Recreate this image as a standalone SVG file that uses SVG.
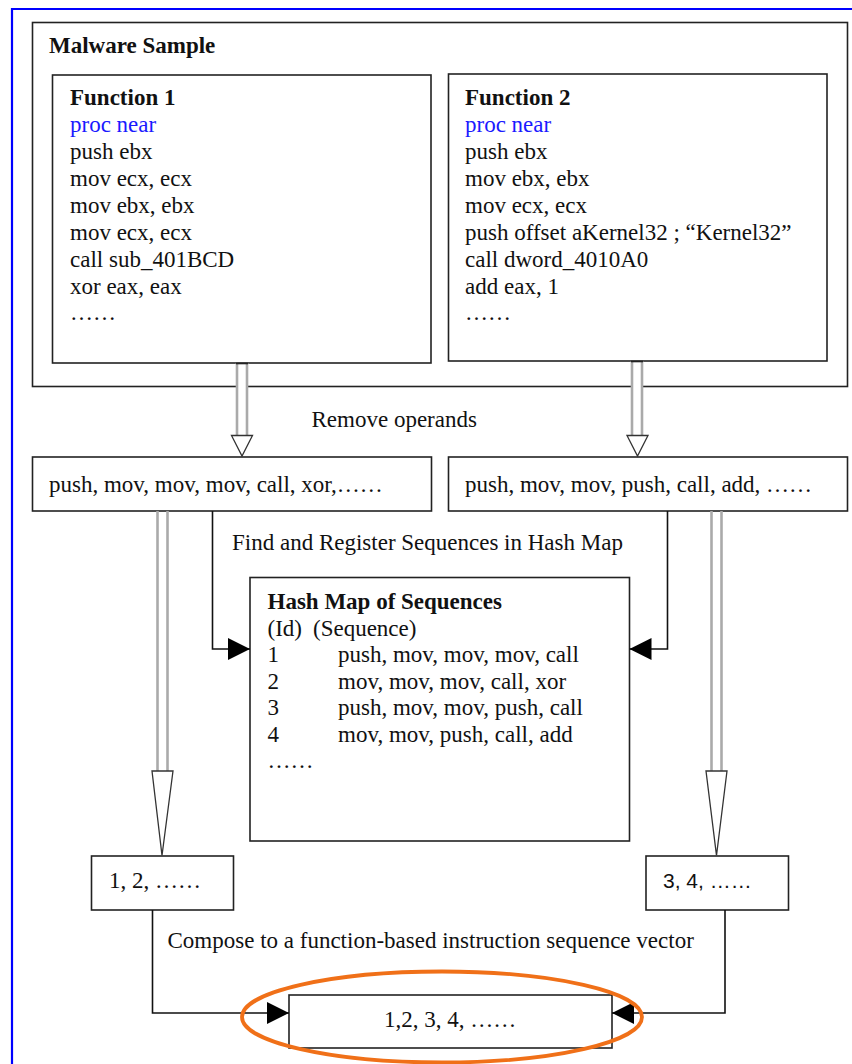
<svg xmlns="http://www.w3.org/2000/svg" width="852" height="1064" viewBox="0 0 852 1064">
<defs>
<style>
text{font-family:"Liberation Serif","Times New Roman",serif;font-size:23px;fill:#111}
.b{font-weight:bold}
.blue{fill:#1a1aff}
.box{fill:#fff;stroke:#222;stroke-width:1.6}
.con{fill:none;stroke:#111;stroke-width:1.6}
.shaft{stroke:#aaa;stroke-width:2.6}
.head{fill:#fff;stroke:#333;stroke-width:1.3;stroke-linejoin:miter}
.sans{font-family:"Liberation Sans",Arial,sans-serif;font-size:21px}
</style>
<marker id="tri" viewBox="0 0 22 22" refX="22" refY="11" markerWidth="22" markerHeight="22" markerUnits="userSpaceOnUse" orient="auto">
<path d="M0,0 L22,11 L0,22 z" fill="#000"/>
</marker>
</defs>
<rect width="852" height="1064" fill="#fff"/>
<g id="frame">
<line x1="12" y1="9" x2="852" y2="9" stroke="#0000ff" stroke-width="2.2"/>
<line x1="12" y1="8" x2="12" y2="1064" stroke="#0000ff" stroke-width="2.2"/>
</g>
<g id="malware-sample">
<rect class="box" x="32.5" y="22.5" width="815" height="364"/>
<text class="b" x="49" y="53">Malware Sample</text>
</g>
<g id="function1">
<rect class="box" x="52.5" y="75" width="378.5" height="288"/>
<text class="b" x="70" y="105">Function 1</text>
<text class="blue" x="70" y="132">proc near</text>
<text x="70" y="159">push ebx</text>
<text x="70" y="186">mov ecx, ecx</text>
<text x="70" y="213">mov ebx, ebx</text>
<text x="70" y="240">mov ecx, ecx</text>
<text x="70" y="267">call sub_401BCD</text>
<text x="70" y="294">xor eax, eax</text>
<text x="70" y="320">……</text>
</g>
<g id="function2">
<rect class="box" x="448.5" y="74" width="378.5" height="287"/>
<text class="b" x="465" y="105">Function 2</text>
<text class="blue" x="465" y="132">proc near</text>
<text x="465" y="159">push ebx</text>
<text x="465" y="186">mov ebx, ebx</text>
<text x="465" y="213">mov ecx, ecx</text>
<text x="465" y="240">push offset aKernel32 ; “Kernel32”</text>
<text x="465" y="267">call dword_4010A0</text>
<text x="465" y="294">add eax, 1</text>
<text x="465" y="320">……</text>
</g>
<g id="ops1">
<rect class="box" x="32.5" y="457" width="399" height="54"/>
<text x="49" y="492">push, mov, mov, mov, call, xor,……</text>
</g>
<g id="ops2">
<rect class="box" x="448.5" y="457" width="399" height="54"/>
<text x="465" y="492">push, mov, mov, push, call, add, ……</text>
</g>
<g id="hashmap">
<rect class="box" x="250" y="577.5" width="379.5" height="263.5"/>
<text class="b" x="267.5" y="609">Hash Map of Sequences</text>
<text x="267.5" y="636">(Id)</text><text x="313" y="636">(Sequence)</text>
<text x="267.5" y="662">1</text><text x="338" y="662">push, mov, mov, mov, call</text>
<text x="267.5" y="688.5">2</text><text x="338" y="688.5">mov, mov, mov, call, xor</text>
<text x="267.5" y="715">3</text><text x="338" y="715">push, mov, mov, push, call</text>
<text x="267.5" y="741.5">4</text><text x="338" y="741.5">mov, mov, push, call, add</text>
<text x="267.5" y="768">……</text>
</g>
<g id="ids1">
<rect class="box" x="91.5" y="856" width="142" height="54"/>
<text x="109" y="888">1, 2, ……</text>
</g>
<g id="ids2">
<rect class="box" x="646" y="856" width="142.5" height="54"/>
<text class="sans" x="663" y="888">3, 4, ……</text>
</g>
<g id="vector">
<rect class="box" x="289" y="995" width="323" height="53"/>
<text x="450" y="1027" text-anchor="middle">1,2, 3, 4, ……</text>
</g>
<g id="connectors">
<rect x="236" y="363" width="11.5" height="73" fill="#fff"/>
<line class="shaft" x1="237" y1="363" x2="237" y2="436"/>
<line class="shaft" x1="247" y1="363" x2="247" y2="436"/>
<line x1="236" y1="363.5" x2="248" y2="363.5" stroke="#222" stroke-width="1.6"/>
<polygon class="head" points="231.5,435.5 252.5,435.5 242,456"/>
<rect x="631" y="361" width="11.5" height="75" fill="#fff"/>
<line class="shaft" x1="632" y1="361" x2="632" y2="436"/>
<line class="shaft" x1="642" y1="361" x2="642" y2="436"/>
<line x1="631" y1="361.5" x2="643" y2="361.5" stroke="#222" stroke-width="1.6"/>
<polygon class="head" points="627,435.5 648,435.5 637.5,456"/>
<line class="shaft" x1="157.5" y1="511" x2="157.5" y2="771"/>
<line class="shaft" x1="167.5" y1="511" x2="167.5" y2="771"/>
<polygon class="head" points="152,771 173,771 162,855.5"/>
<line class="shaft" x1="711.5" y1="511" x2="711.5" y2="771"/>
<line class="shaft" x1="721.5" y1="511" x2="721.5" y2="771"/>
<polygon class="head" points="706,771 727,771 716.5,855.5"/>
<path class="con" d="M212.5,511 V649 H250" marker-end="url(#tri)"/>
<path class="con" d="M667.5,511 V649 H629.5" marker-end="url(#tri)"/>
<path class="con" d="M152.5,910 V1013 H289" marker-end="url(#tri)"/>
<path class="con" d="M725,910 V1013 H612" marker-end="url(#tri)"/>
<text x="311.5" y="427">Remove operands</text>
<text x="232" y="550">Find and Register Sequences in Hash Map</text>
<text x="167.5" y="948">Compose to a function-based instruction sequence vector</text>
</g>
<g id="highlight">
<ellipse cx="442" cy="1017" rx="200" ry="45.5" fill="none" stroke="#f07018" stroke-width="3.8"/>
</g>
</svg>
